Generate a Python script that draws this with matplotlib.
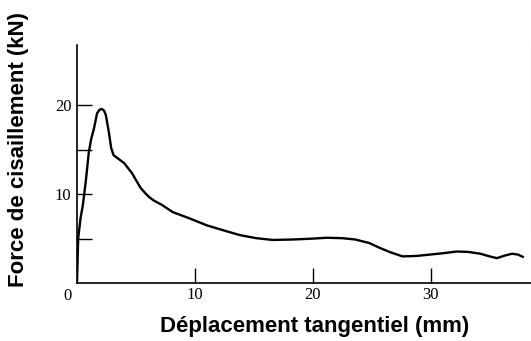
import matplotlib

matplotlib.use("Agg")
import matplotlib.pyplot as plt

# shear force vs tangential displacement
disp_mm = [0.0, 0.1, 0.3, 0.5, 0.75, 1.0, 1.2, 1.44, 1.7, 1.9, 2.1, 2.3, 2.45,
           2.7, 2.9, 3.1, 3.5, 4.0, 4.65, 5.0, 5.4, 5.8, 6.1, 6.5, 7.2, 8.1,
           9.5, 11.0, 12.5, 13.8, 15.2, 16.6, 18.3, 20.0, 21.2, 22.5, 23.6,
           24.8, 25.6, 26.5, 27.6, 28.8, 29.9, 31.0, 32.2, 33.2, 34.2, 35.0,
           35.6, 36.3, 36.9, 37.4, 37.8]
force_kN = [0.0, 5.0, 7.3, 8.8, 11.5, 14.7, 16.2, 17.4, 19.1, 19.5, 19.6, 19.4,
            18.9, 17.0, 15.2, 14.4, 14.0, 13.5, 12.4, 11.6, 10.7, 10.1, 9.7,
            9.3, 8.8, 8.0, 7.3, 6.5, 5.9, 5.4, 5.05, 4.85, 4.9, 5.0, 5.1, 5.05,
            4.9, 4.5, 4.0, 3.5, 3.0, 3.05, 3.2, 3.35, 3.55, 3.5, 3.3, 3.0, 2.8,
            3.1, 3.3, 3.2, 2.95]

x_ticks = [10, 20, 30]
y_ticks = [5, 10, 15, 20]
y_labels = ["", "10", "", "20"]

fig = plt.figure(figsize=(5.31, 3.41), dpi=100)
ax = fig.add_axes([0.145, 0.17, 0.855, 0.698])

ax.plot(disp_mm, force_kN, color="black", linewidth=1.7, solid_joinstyle="round")

ax.set_xlim(0, 38.5)
ax.set_ylim(0, 26.8)
ax.spines["top"].set_visible(False)
ax.spines["right"].set_bounds(6, 26.8)
ax.spines["right"].set_color("#999999")
ax.spines["right"].set_linestyle(":")
ax.spines["right"].set_linewidth(0.8)
ax.spines["left"].set_linewidth(1.2)
ax.spines["bottom"].set_linewidth(1.2)

ax.set_xticks(x_ticks)
ax.set_xticklabels([str(t) for t in x_ticks])
ax.set_yticks(y_ticks)
ax.set_yticklabels(y_labels)
ax.tick_params(direction="in", length=11, width=1.0, pad=4, right=False,
               labelsize=12)
ax.tick_params(axis="x", pad=3)
for lbl in ax.get_xticklabels() + ax.get_yticklabels():
    lbl.set_family("Liberation Serif")

# origin "0" sits at the corner below the axes
ax.text(-0.012, -0.022, "0", transform=ax.transAxes, ha="right", va="top",
        family="Liberation Serif", fontsize=12)

ax.set_xlabel("Déplacement tangentiel (mm)", family="Liberation Sans",
              fontsize=16, fontweight="bold")
ax.set_ylabel("Force de cisaillement (kN)", family="Liberation Sans",
              fontsize=16, fontweight="bold")
ax.xaxis.set_label_coords(0.524, -0.14)
ax.yaxis.set_label_coords(-0.105, 0.563)

fig.savefig("out.png", dpi=100)
